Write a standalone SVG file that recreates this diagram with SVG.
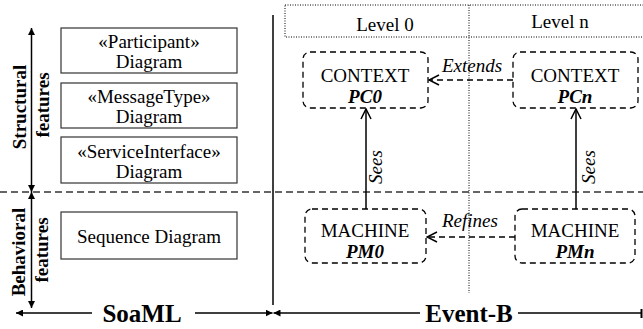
<svg xmlns="http://www.w3.org/2000/svg" width="643" height="329" viewBox="0 0 643 329" font-family="'Liberation Serif', 'DejaVu Serif', serif">
<defs>
<marker id="tri" viewBox="0 0 10 10" refX="10" refY="5" markerWidth="7" markerHeight="7" markerUnits="userSpaceOnUse" orient="auto-start-reverse">
<path d="M0,0 L10,5 L0,10 z" fill="#000"/>
</marker>
<marker id="open" viewBox="0 0 12 12" refX="11" refY="6" markerWidth="12" markerHeight="12" markerUnits="userSpaceOnUse" orient="auto">
<path d="M1,1 L11,6 L1,11" fill="none" stroke="#000" stroke-width="1.5"/>
</marker>
</defs>
<style>
text{font-family:'Liberation Serif','DejaVu Serif',serif;fill:#000}
.t{font-size:19px;text-anchor:middle}
.bi{font-weight:bold;font-style:italic}
.b{font-weight:bold}
.it{font-style:italic;font-size:19px}
.box{fill:#fff;stroke:#333;stroke-width:1.2}
.dbox{fill:none;stroke:#000;stroke-width:1.3;stroke-dasharray:6,4}
.dot{fill:none;stroke:#000;stroke-width:1;stroke-dasharray:1,1.5}
.ln{stroke:#000;stroke-width:1.5;fill:none}
.dash{stroke:#000;stroke-width:1.3;stroke-dasharray:6,4;fill:none}
</style>
<g id="level-header">
<rect class="dot" x="285" y="5" width="370" height="32"/>
<line class="dot" x1="469" y1="5" x2="469" y2="293"/>
<text class="t" x="385" y="31">Level 0</text>
<text class="t" x="560" y="28">Level n</text>
</g>
<line x1="0" y1="192" x2="643" y2="192" stroke="#333" stroke-width="1.3" stroke-dasharray="7,4"/>
<line class="ln" x1="273" y1="15" x2="273" y2="305"/>
<g id="participant">
<rect class="box" x="61" y="28" width="176" height="45"/>
<text class="t" x="149" y="48">«Participant»</text>
<text class="t" x="149" y="68">Diagram</text>
</g>
<g id="messagetype">
<rect class="box" x="61" y="83" width="176" height="45"/>
<text class="t" x="149" y="103">«MessageType»</text>
<text class="t" x="149" y="123">Diagram</text>
</g>
<g id="serviceinterface">
<rect class="box" x="61" y="137" width="176" height="46"/>
<text class="t" x="149" y="158">«ServiceInterface»</text>
<text class="t" x="149" y="178">Diagram</text>
</g>
<g id="sequence">
<rect class="box" x="61" y="212" width="176" height="47"/>
<text class="t" x="149" y="243">Sequence Diagram</text>
</g>
<g id="pc0">
<rect class="dbox" x="303" y="52" width="125" height="56" rx="7"/>
<text class="t" x="365" y="82">CONTEXT</text>
<text class="t bi" x="365" y="103">PC0</text>
</g>
<g id="pcn">
<rect class="dbox" x="513" y="52" width="125" height="56" rx="7"/>
<text class="t" x="575" y="82">CONTEXT</text>
<text class="t bi" x="575" y="103">PCn</text>
</g>
<g id="pm0">
<rect class="dbox" x="305" y="209" width="121" height="54" rx="7"/>
<text class="t" x="365" y="237">MACHINE</text>
<text class="t bi" x="365" y="258">PM0</text>
</g>
<g id="pmn">
<rect class="dbox" x="515" y="209" width="120" height="54" rx="7"/>
<text class="t" x="575" y="237">MACHINE</text>
<text class="t bi" x="575" y="258">PMn</text>
</g>
<g id="connectors">
<line class="dash" x1="513" y1="80" x2="429" y2="80" marker-end="url(#open)"/>
<text class="it" x="442" y="72">Extends</text>
<line class="dash" x1="515" y1="237" x2="427" y2="237" marker-end="url(#open)"/>
<text class="it" x="442" y="227">Refines</text>
<line class="ln" x1="366" y1="209" x2="366" y2="109" marker-end="url(#open)"/>
<text class="it" transform="translate(382,167) rotate(-90)" text-anchor="middle">Sees</text>
<line class="ln" x1="576" y1="209" x2="576" y2="109" marker-end="url(#open)"/>
<text class="it" transform="translate(595,167) rotate(-90)" text-anchor="middle">Sees</text>
<line class="ln" x1="31.5" y1="28" x2="31.5" y2="192" marker-start="url(#tri)" marker-end="url(#tri)"/>
<line class="ln" x1="31.5" y1="192" x2="31.5" y2="308" marker-start="url(#tri)" marker-end="url(#tri)"/>
<line class="ln" x1="16" y1="313" x2="92" y2="313" marker-start="url(#tri)"/>
<line class="ln" x1="195" y1="313" x2="272.5" y2="313" marker-end="url(#tri)"/>
<line class="ln" x1="273.5" y1="313" x2="420" y2="313" marker-start="url(#tri)"/>
<line class="ln" x1="518" y1="313" x2="641" y2="313"/>
<line x1="641.5" y1="309" x2="641.5" y2="318" stroke="#000" stroke-width="2"/>
</g>
<g id="labels">
<text class="b" font-size="19" text-anchor="middle" transform="translate(26,107) rotate(-90)">Structural</text>
<text class="b" font-size="19" text-anchor="middle" transform="translate(49,105) rotate(-90)">features</text>
<text class="b" font-size="19" text-anchor="middle" transform="translate(25,252) rotate(-90)">Behavioral</text>
<text class="b" font-size="19" text-anchor="middle" transform="translate(48,250) rotate(-90)">features</text>
<text class="b" font-size="25" text-anchor="middle" x="142" y="322">SoaML</text>
<text class="b" font-size="25" text-anchor="middle" x="469" y="322">Event-B</text>
</g>
</svg>
